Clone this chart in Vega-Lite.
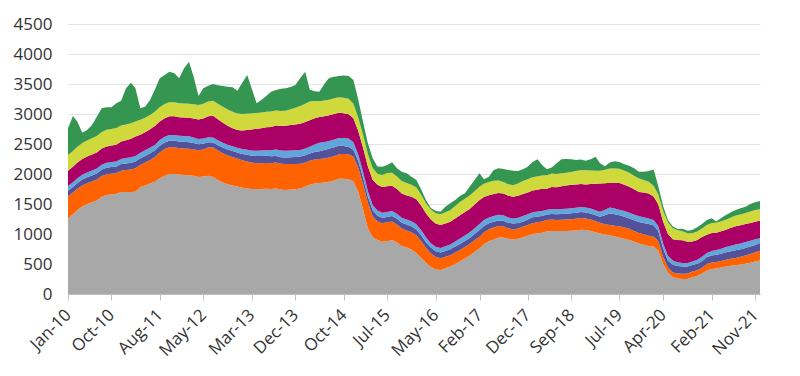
{
  "$schema": "https://vega.github.io/schema/vega-lite/v6.json",
  "width": 692,
  "height": 270,
  "autosize": {"type": "none"},
  "padding": {"left": 68, "top": 24, "right": 40, "bottom": 82},
  "background": "white",
  "config": {"view": {"stroke": null}, "font": "Open Sans"},
  "data": {"values": [
    {"d":"2010-01-01","s1":1260,"s2":370,"s3":90,"s4":78,"s5":255,"s6":262,"s7":446},
    {"d":"2010-02-01","s1":1330,"s2":360,"s3":92,"s4":79,"s5":258,"s6":264,"s7":584},
    {"d":"2010-03-01","s1":1400,"s2":355,"s3":95,"s4":80,"s5":260,"s6":266,"s7":416},
    {"d":"2010-04-01","s1":1460,"s2":350,"s3":98,"s4":80,"s5":262,"s6":268,"s7":170},
    {"d":"2010-05-01","s1":1500,"s2":345,"s3":100,"s4":81,"s5":264,"s6":270,"s7":173},
    {"d":"2010-06-01","s1":1530,"s2":345,"s3":102,"s4":82,"s5":266,"s6":272,"s7":220},
    {"d":"2010-07-01","s1":1560,"s2":345,"s3":105,"s4":82,"s5":268,"s6":274,"s7":322},
    {"d":"2010-08-01","s1":1620,"s2":345,"s3":108,"s4":83,"s5":270,"s6":276,"s7":392},
    {"d":"2010-09-01","s1":1650,"s2":345,"s3":110,"s4":83,"s5":272,"s6":277,"s7":374},
    {"d":"2010-10-01","s1":1660,"s2":345,"s3":110,"s4":84,"s5":275,"s6":278,"s7":359},
    {"d":"2010-11-01","s1":1670,"s2":345,"s3":111,"s4":84,"s5":277,"s6":278,"s7":413},
    {"d":"2010-12-01","s1":1700,"s2":355,"s3":111,"s4":86,"s5":288,"s6":270,"s7":412},
    {"d":"2011-01-01","s1":1700,"s2":365,"s3":112,"s4":88,"s5":299,"s6":262,"s7":602},
    {"d":"2011-02-01","s1":1700,"s2":375,"s3":112,"s4":91,"s5":310,"s6":256,"s7":678},
    {"d":"2011-03-01","s1":1705,"s2":390,"s3":112,"s4":94,"s5":322,"s6":250,"s7":555},
    {"d":"2011-04-01","s1":1780,"s2":370,"s3":112,"s4":94,"s5":300,"s6":247,"s7":191},
    {"d":"2011-05-01","s1":1810,"s2":380,"s3":111,"s4":94,"s5":300,"s6":244,"s7":183},
    {"d":"2011-06-01","s1":1840,"s2":395,"s3":111,"s4":94,"s5":305,"s6":240,"s7":248},
    {"d":"2011-07-01","s1":1870,"s2":410,"s3":111,"s4":94,"s5":314,"s6":237,"s7":368},
    {"d":"2011-08-01","s1":1930,"s2":430,"s3":111,"s4":94,"s5":312,"s6":235,"s7":482},
    {"d":"2011-09-01","s1":1970,"s2":445,"s3":111,"s4":94,"s5":311,"s6":234,"s7":485},
    {"d":"2011-10-01","s1":2000,"s2":445,"s3":111,"s4":95,"s5":310,"s6":234,"s7":511},
    {"d":"2011-11-01","s1":2000,"s2":445,"s3":111,"s4":96,"s5":309,"s6":234,"s7":483},
    {"d":"2011-12-01","s1":1990,"s2":440,"s3":111,"s4":97,"s5":308,"s6":234,"s7":414},
    {"d":"2012-01-01","s1":1985,"s2":440,"s3":111,"s4":98,"s5":307,"s6":233,"s7":587},
    {"d":"2012-02-01","s1":1980,"s2":440,"s3":111,"s4":100,"s5":306,"s6":233,"s7":702},
    {"d":"2012-03-01","s1":1970,"s2":440,"s3":105,"s4":95,"s5":315,"s6":236,"s7":461},
    {"d":"2012-04-01","s1":1950,"s2":445,"s3":100,"s4":90,"s5":325,"s6":240,"s7":150},
    {"d":"2012-05-01","s1":1960,"s2":450,"s3":95,"s4":85,"s5":335,"s6":244,"s7":259},
    {"d":"2012-06-01","s1":1970,"s2":470,"s3":90,"s4":83,"s5":350,"s6":247,"s7":260},
    {"d":"2012-07-01","s1":1950,"s2":490,"s3":85,"s4":83,"s5":361,"s6":250,"s7":281},
    {"d":"2012-08-01","s1":1900,"s2":490,"s3":90,"s4":82,"s5":350,"s6":258,"s7":310},
    {"d":"2012-09-01","s1":1860,"s2":485,"s3":95,"s4":80,"s5":335,"s6":266,"s7":346},
    {"d":"2012-10-01","s1":1830,"s2":480,"s3":100,"s4":79,"s5":315,"s6":272,"s7":379},
    {"d":"2012-11-01","s1":1810,"s2":475,"s3":100,"s4":78,"s5":300,"s6":276,"s7":405},
    {"d":"2012-12-01","s1":1790,"s2":470,"s3":100,"s4":78,"s5":294,"s6":278,"s7":379},
    {"d":"2013-01-01","s1":1770,"s2":460,"s3":105,"s4":80,"s5":310,"s6":274,"s7":521},
    {"d":"2013-02-01","s1":1760,"s2":450,"s3":110,"s4":83,"s5":330,"s6":270,"s7":647},
    {"d":"2013-03-01","s1":1750,"s2":440,"s3":115,"s4":86,"s5":350,"s6":266,"s7":423},
    {"d":"2013-04-01","s1":1750,"s2":430,"s3":120,"s4":89,"s5":365,"s6":263,"s7":161},
    {"d":"2013-05-01","s1":1750,"s2":430,"s3":122,"s4":89,"s5":372,"s6":261,"s7":209},
    {"d":"2013-06-01","s1":1755,"s2":430,"s3":120,"s4":95,"s5":380,"s6":259,"s7":261},
    {"d":"2013-07-01","s1":1750,"s2":430,"s3":115,"s4":100,"s5":390,"s6":256,"s7":331},
    {"d":"2013-08-01","s1":1760,"s2":430,"s3":112,"s4":105,"s5":400,"s6":253,"s7":340},
    {"d":"2013-09-01","s1":1740,"s2":430,"s3":111,"s4":110,"s5":410,"s6":251,"s7":368},
    {"d":"2013-10-01","s1":1735,"s2":430,"s3":111,"s4":111,"s5":417,"s6":250,"s7":374},
    {"d":"2013-11-01","s1":1740,"s2":425,"s3":115,"s4":111,"s5":425,"s6":265,"s7":369},
    {"d":"2013-12-01","s1":1745,"s2":420,"s3":118,"s4":111,"s5":432,"s6":280,"s7":377},
    {"d":"2014-01-01","s1":1760,"s2":410,"s3":120,"s4":111,"s5":438,"s6":295,"s7":466},
    {"d":"2014-02-01","s1":1790,"s2":400,"s3":122,"s4":111,"s5":444,"s6":305,"s7":534},
    {"d":"2014-03-01","s1":1820,"s2":400,"s3":122,"s4":111,"s5":444,"s6":311,"s7":200},
    {"d":"2014-04-01","s1":1840,"s2":400,"s3":125,"s4":125,"s5":440,"s6":285,"s7":165},
    {"d":"2014-05-01","s1":1850,"s2":400,"s3":130,"s4":139,"s5":433,"s6":261,"s7":159},
    {"d":"2014-06-01","s1":1860,"s2":400,"s3":140,"s4":133,"s5":431,"s6":261,"s7":275},
    {"d":"2014-07-01","s1":1870,"s2":405,"s3":145,"s4":128,"s5":430,"s6":261,"s7":361},
    {"d":"2014-08-01","s1":1890,"s2":405,"s3":150,"s4":128,"s5":428,"s6":261,"s7":358},
    {"d":"2014-09-01","s1":1920,"s2":410,"s3":140,"s4":132,"s5":420,"s6":259,"s7":352},
    {"d":"2014-10-01","s1":1920,"s2":415,"s3":130,"s4":136,"s5":412,"s6":257,"s7":370},
    {"d":"2014-11-01","s1":1910,"s2":420,"s3":122,"s4":139,"s5":406,"s6":256,"s7":380},
    {"d":"2014-12-01","s1":1880,"s2":410,"s3":115,"s4":125,"s5":400,"s6":240,"s7":397},
    {"d":"2015-01-01","s1":1700,"s2":400,"s3":111,"s4":111,"s5":389,"s6":222,"s7":300},
    {"d":"2015-02-01","s1":1400,"s2":420,"s3":105,"s4":100,"s5":400,"s6":215,"s7":210},
    {"d":"2015-03-01","s1":1100,"s2":430,"s3":100,"s4":95,"s5":410,"s6":205,"s7":180},
    {"d":"2015-04-01","s1":950,"s2":350,"s3":95,"s4":90,"s5":420,"s6":195,"s7":161},
    {"d":"2015-05-01","s1":900,"s2":310,"s3":94,"s4":89,"s5":428,"s6":183,"s7":120},
    {"d":"2015-06-01","s1":870,"s2":310,"s3":90,"s4":86,"s5":428,"s6":200,"s7":138},
    {"d":"2015-07-01","s1":880,"s2":315,"s3":89,"s4":83,"s5":428,"s6":222,"s7":133},
    {"d":"2015-08-01","s1":900,"s2":310,"s3":92,"s4":83,"s5":420,"s6":215,"s7":174},
    {"d":"2015-09-01","s1":860,"s2":300,"s3":95,"s4":83,"s5":410,"s6":210,"s7":136},
    {"d":"2015-10-01","s1":800,"s2":290,"s3":98,"s4":83,"s5":405,"s6":208,"s7":155},
    {"d":"2015-11-01","s1":780,"s2":280,"s3":100,"s4":83,"s5":400,"s6":206,"s7":162},
    {"d":"2015-12-01","s1":740,"s2":290,"s3":98,"s4":85,"s5":408,"s6":200,"s7":135},
    {"d":"2016-01-01","s1":680,"s2":300,"s3":96,"s4":87,"s5":417,"s6":194,"s7":126},
    {"d":"2016-02-01","s1":600,"s2":280,"s3":94,"s4":89,"s5":408,"s6":180,"s7":85},
    {"d":"2016-03-01","s1":520,"s2":250,"s3":94,"s4":80,"s5":400,"s6":167,"s7":56},
    {"d":"2016-04-01","s1":450,"s2":230,"s3":94,"s4":72,"s5":395,"s6":167,"s7":25},
    {"d":"2016-05-01","s1":410,"s2":210,"s3":94,"s4":74,"s5":389,"s6":167,"s7":45},
    {"d":"2016-06-01","s1":400,"s2":195,"s3":96,"s4":76,"s5":384,"s6":178,"s7":40},
    {"d":"2016-07-01","s1":430,"s2":190,"s3":98,"s4":78,"s5":380,"s6":185,"s7":95},
    {"d":"2016-08-01","s1":460,"s2":185,"s3":100,"s4":80,"s5":378,"s6":194,"s7":114},
    {"d":"2016-09-01","s1":500,"s2":190,"s3":100,"s4":84,"s5":383,"s6":208,"s7":102},
    {"d":"2016-10-01","s1":540,"s2":195,"s3":100,"s4":88,"s5":389,"s6":222,"s7":100},
    {"d":"2016-11-01","s1":590,"s2":195,"s3":100,"s4":91,"s5":389,"s6":222,"s7":91},
    {"d":"2016-12-01","s1":640,"s2":195,"s3":100,"s4":94,"s5":389,"s6":222,"s7":149},
    {"d":"2017-01-01","s1":700,"s2":195,"s3":105,"s4":97,"s5":395,"s6":222,"s7":186},
    {"d":"2017-02-01","s1":760,"s2":195,"s3":111,"s4":100,"s5":400,"s6":222,"s7":223},
    {"d":"2017-03-01","s1":830,"s2":200,"s3":105,"s4":97,"s5":385,"s6":222,"s7":72},
    {"d":"2017-04-01","s1":880,"s2":200,"s3":100,"s4":94,"s5":370,"s6":222,"s7":90},
    {"d":"2017-05-01","s1":910,"s2":200,"s3":94,"s4":94,"s5":367,"s6":222,"s7":180},
    {"d":"2017-06-01","s1":940,"s2":195,"s3":90,"s4":94,"s5":364,"s6":208,"s7":203},
    {"d":"2017-07-01","s1":940,"s2":190,"s3":89,"s4":94,"s5":361,"s6":194,"s7":215},
    {"d":"2017-08-01","s1":920,"s2":175,"s3":92,"s4":88,"s5":361,"s6":194,"s7":237},
    {"d":"2017-09-01","s1":910,"s2":165,"s3":100,"s4":83,"s5":361,"s6":194,"s7":243},
    {"d":"2017-10-01","s1":920,"s2":170,"s3":92,"s4":90,"s5":364,"s6":205,"s7":209},
    {"d":"2017-11-01","s1":945,"s2":178,"s3":83,"s4":94,"s5":367,"s6":217,"s7":196},
    {"d":"2017-12-01","s1":970,"s2":180,"s3":90,"s4":88,"s5":364,"s6":220,"s7":208},
    {"d":"2018-01-01","s1":1000,"s2":180,"s3":100,"s4":83,"s5":361,"s6":222,"s7":254},
    {"d":"2018-02-01","s1":1010,"s2":185,"s3":95,"s4":83,"s5":366,"s6":222,"s7":283},
    {"d":"2018-03-01","s1":1020,"s2":190,"s3":90,"s4":83,"s5":370,"s6":222,"s7":175},
    {"d":"2018-04-01","s1":1040,"s2":194,"s3":89,"s4":83,"s5":350,"s6":222,"s7":100},
    {"d":"2018-05-01","s1":1050,"s2":190,"s3":92,"s4":83,"s5":370,"s6":222,"s7":100},
    {"d":"2018-06-01","s1":1050,"s2":185,"s3":94,"s4":83,"s5":367,"s6":222,"s7":177},
    {"d":"2018-07-01","s1":1050,"s2":188,"s3":96,"s4":83,"s5":378,"s6":216,"s7":233},
    {"d":"2018-08-01","s1":1050,"s2":190,"s3":98,"s4":83,"s5":389,"s6":211,"s7":229},
    {"d":"2018-09-01","s1":1055,"s2":192,"s3":100,"s4":83,"s5":389,"s6":216,"s7":209},
    {"d":"2018-10-01","s1":1060,"s2":194,"s3":100,"s4":83,"s5":389,"s6":222,"s7":185},
    {"d":"2018-11-01","s1":1070,"s2":195,"s3":100,"s4":83,"s5":386,"s6":230,"s7":176},
    {"d":"2018-12-01","s1":1065,"s2":194,"s3":100,"s4":83,"s5":383,"s6":239,"s7":158},
    {"d":"2019-01-01","s1":1050,"s2":190,"s3":100,"s4":83,"s5":410,"s6":225,"s7":186},
    {"d":"2019-02-01","s1":1030,"s2":184,"s3":100,"s4":83,"s5":440,"s6":218,"s7":234},
    {"d":"2019-03-01","s1":1010,"s2":178,"s3":100,"s4":83,"s5":472,"s6":211,"s7":124},
    {"d":"2019-04-01","s1":990,"s2":172,"s3":150,"s4":92,"s5":440,"s6":225,"s7":60},
    {"d":"2019-05-01","s1":980,"s2":168,"s3":194,"s4":100,"s5":411,"s6":239,"s7":100},
    {"d":"2019-06-01","s1":960,"s2":178,"s3":190,"s4":97,"s5":428,"s6":239,"s7":119},
    {"d":"2019-07-01","s1":940,"s2":188,"s3":183,"s4":94,"s5":444,"s6":239,"s7":112},
    {"d":"2019-08-01","s1":920,"s2":190,"s3":178,"s4":94,"s5":438,"s6":236,"s7":105},
    {"d":"2019-09-01","s1":900,"s2":188,"s3":172,"s4":94,"s5":433,"s6":233,"s7":119},
    {"d":"2019-10-01","s1":870,"s2":182,"s3":178,"s4":94,"s5":420,"s6":228,"s7":122},
    {"d":"2019-11-01","s1":840,"s2":178,"s3":183,"s4":94,"s5":406,"s6":222,"s7":116},
    {"d":"2019-12-01","s1":820,"s2":175,"s3":190,"s4":94,"s5":412,"s6":208,"s7":140},
    {"d":"2020-01-01","s1":800,"s2":172,"s3":194,"s4":94,"s5":417,"s6":194,"s7":179},
    {"d":"2020-02-01","s1":790,"s2":170,"s3":185,"s4":90,"s5":390,"s6":180,"s7":270},
    {"d":"2020-03-01","s1":720,"s2":165,"s3":167,"s4":83,"s5":361,"s6":167,"s7":137},
    {"d":"2020-04-01","s1":500,"s2":120,"s3":140,"s4":83,"s5":361,"s6":180,"s7":80},
    {"d":"2020-05-01","s1":360,"s2":85,"s3":111,"s4":83,"s5":361,"s6":194,"s7":40},
    {"d":"2020-06-01","s1":280,"s2":78,"s3":128,"s4":72,"s5":356,"s6":183,"s7":30},
    {"d":"2020-07-01","s1":260,"s2":82,"s3":125,"s4":64,"s5":367,"s6":165,"s7":20},
    {"d":"2020-08-01","s1":250,"s2":88,"s3":122,"s4":56,"s5":378,"s6":150,"s7":45},
    {"d":"2020-09-01","s1":250,"s2":92,"s3":118,"s4":56,"s5":355,"s6":140,"s7":45},
    {"d":"2020-10-01","s1":280,"s2":94,"s3":111,"s4":56,"s5":333,"s6":139,"s7":55},
    {"d":"2020-11-01","s1":300,"s2":94,"s3":111,"s4":64,"s5":333,"s6":140,"s7":70},
    {"d":"2020-12-01","s1":340,"s2":96,"s3":111,"s4":72,"s5":333,"s6":140,"s7":75},
    {"d":"2021-01-01","s1":390,"s2":110,"s3":115,"s4":67,"s5":306,"s6":160,"s7":85},
    {"d":"2021-02-01","s1":415,"s2":110,"s3":115,"s4":75,"s5":300,"s6":167,"s7":79},
    {"d":"2021-03-01","s1":425,"s2":110,"s3":118,"s4":82,"s5":285,"s6":167,"s7":20},
    {"d":"2021-04-01","s1":440,"s2":110,"s3":120,"s4":86,"s5":290,"s6":167,"s7":55},
    {"d":"2021-05-01","s1":460,"s2":112,"s3":122,"s4":89,"s5":289,"s6":167,"s7":78},
    {"d":"2021-06-01","s1":470,"s2":118,"s3":125,"s4":92,"s5":298,"s6":172,"s7":86},
    {"d":"2021-07-01","s1":480,"s2":122,"s3":128,"s4":94,"s5":306,"s6":178,"s7":92},
    {"d":"2021-08-01","s1":490,"s2":130,"s3":125,"s4":97,"s5":303,"s6":180,"s7":103},
    {"d":"2021-09-01","s1":505,"s2":138,"s3":122,"s4":100,"s5":300,"s6":183,"s7":108},
    {"d":"2021-10-01","s1":520,"s2":148,"s3":122,"s4":97,"s5":297,"s6":189,"s7":127},
    {"d":"2021-11-01","s1":540,"s2":156,"s3":122,"s4":94,"s5":294,"s6":194,"s7":128},
    {"d":"2021-12-01","s1":560,"s2":160,"s3":128,"s4":83,"s5":294,"s6":189,"s7":136}
  ]},
  "transform": [
    {"fold": ["s1","s2","s3","s4","s5","s6","s7"], "as": ["series","value"]}
  ],
  "mark": {"type": "area", "interpolate": "linear"},
  "encoding": {
    "x": {
      "field": "d", "type": "temporal",
      "scale": {"type": "utc", "nice": false},
      "axis": {
        "title": null,
        "grid": false,
        "values": [
          {"year":2010,"month":1,"date":1,"utc":true},
          {"year":2010,"month":10,"date":1,"utc":true},
          {"year":2011,"month":8,"date":1,"utc":true},
          {"year":2012,"month":5,"date":1,"utc":true},
          {"year":2013,"month":3,"date":1,"utc":true},
          {"year":2013,"month":12,"date":1,"utc":true},
          {"year":2014,"month":10,"date":1,"utc":true},
          {"year":2015,"month":7,"date":1,"utc":true},
          {"year":2016,"month":5,"date":1,"utc":true},
          {"year":2017,"month":2,"date":1,"utc":true},
          {"year":2017,"month":12,"date":1,"utc":true},
          {"year":2018,"month":9,"date":1,"utc":true},
          {"year":2019,"month":7,"date":1,"utc":true},
          {"year":2020,"month":4,"date":1,"utc":true},
          {"year":2021,"month":2,"date":1,"utc":true},
          {"year":2021,"month":11,"date":1,"utc":true}
        ],
        "labelExpr": "utcFormat(datum.value, '%b-%y')",
        "labelAngle": -45,
        "labelAlign": "right",
        "labelBaseline": "middle",
        "labelFontSize": 17,
        "labelColor": "#333333",
        "labelPadding": 12,
        "labelFlush": false,
        "labelOverlap": false,
        "labelBound": false,
        "domainColor": "#bfbfbf",
        "tickColor": "#bfbfbf",
        "tickSize": 6,
        "zindex": 1
      }
    },
    "y": {
      "field": "value", "type": "quantitative", "stack": "zero",
      "scale": {"domain": [0, 4500], "nice": false},
      "axis": {
        "title": null,
        "values": [0,500,1000,1500,2000,2500,3000,3500,4000,4500],
        "format": "d",
        "domain": false,
        "ticks": false,
        "gridColor": "#e3e3e3",
        "labelFontSize": 17,
        "labelColor": "#333333",
        "labelPadding": 16
      }
    },
    "color": {
      "field": "series", "type": "nominal",
      "scale": {
        "domain": ["s1","s2","s3","s4","s5","s6","s7"],
        "range": ["#A8A8A8","#FF6200","#525199","#60A6DA","#AB0066","#D0D93C","#349651"]
      },
      "legend": null
    },
    "order": {"field": "series", "type": "nominal", "sort": "ascending"}
  }
}
